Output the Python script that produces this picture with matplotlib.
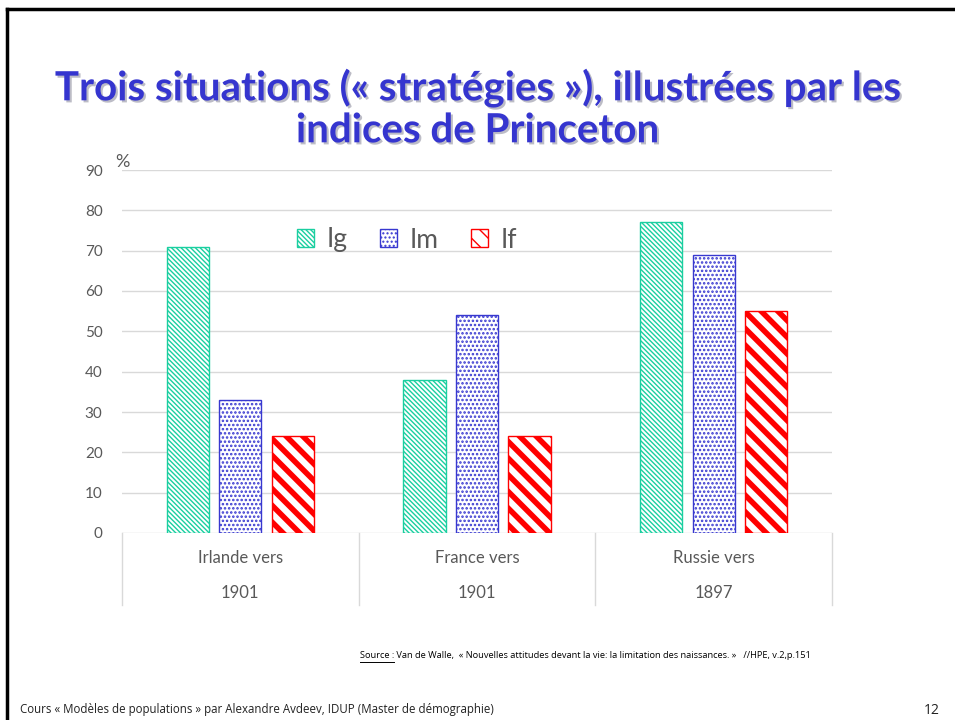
import matplotlib
matplotlib.use("Agg")
import matplotlib.pyplot as plt
import matplotlib.patheffects as pe
import matplotlib.transforms as mtransforms
from matplotlib.lines import Line2D
import numpy as np

# ---- data ----
categories_line1 = ["Irlande vers", "France vers", "Russie vers"]
categories_line2 = ["1901", "1901", "1897"]
series_names = ["Ig", "Im", "If"]
ig_values = [71, 38, 77]
im_values = [33, 54, 69]
if_values = [24, 24, 55]
yticks = [0, 10, 20, 30, 40, 50, 60, 70, 80, 90]

title_text = "Trois situations (« stratégies »), illustrées par les\nindices de Princeton"
source_label = "Source :"
source_text = " Van de Walle,  « Nouvelles attitudes devant la vie: la limitation des naissances. »   //HPE, v.2,p.151"
footer_text = "Cours « Modèles de populations » par Alexandre Avdeev, IDUP (Master de démographie)"
page_number = "12"

colors = ["#1ACFA0", "#3838D0", "#FF0000"]
hatches = ["\\" * 7, "....", "\\\\"]
hatch_lws = [1.0, 1.2, 4.0]

plt.rcParams['font.family'] = ['Lato', 'DejaVu Sans']

fig = plt.figure(figsize=(9.55, 7.2), dpi=100)
fig.patch.set_facecolor("white")

ax = fig.add_axes([122/955, 1-533/720, 710/955, 363/720])
x = np.arange(len(categories_line1))
width = 0.178
step = 0.222
values = [ig_values, im_values, if_values]
for i, (name, vals) in enumerate(zip(series_names, values)):
    bars = ax.bar(x + (i-1)*step, vals, width, facecolor="white",
                  edgecolor=colors[i], hatch=hatches[i], linewidth=1.0,
                  label=name, zorder=3)
    for b in bars:
        if hasattr(b, "set_hatch_linewidth"):
            b.set_hatch_linewidth(hatch_lws[i])

ax.set_xlim(-0.5, 2.5)
ax.set_ylim(0, 90)
ax.set_yticks(yticks)
ax.set_yticklabels([str(t) for t in yticks], fontsize=11, color="#595959")
ax.tick_params(axis="y", length=0, pad=14)
ax.set_xticks([])
for s in ax.spines.values():
    s.set_visible(False)
ax.yaxis.grid(True, color="#D9D9D9", linewidth=1.0, zorder=0)
ax.set_axisbelow(True)

# category labels (two lines)
trans_cat = mtransforms.blended_transform_factory(ax.transData, fig.transFigure)
for xi, l1, l2 in zip(x, categories_line1, categories_line2):
    ax.text(xi, 1-558/720, l1, transform=trans_cat, ha="center", va="center",
            fontsize=12, color="#595959")
    ax.text(xi, 1-593/720, l2, transform=trans_cat, ha="center", va="center",
            fontsize=12, color="#595959")
for xb in [-0.5, 0.5, 1.5, 2.5]:
    ax.add_line(Line2D([xb, xb], [1-533/720, 1-605/720], transform=trans_cat,
                       color="#D9D9D9", linewidth=1.0, clip_on=False))

# percent sign
fig.text(122/955, 1-162/720, "%", fontsize=13, color="#595959", ha="center", va="center")

# legend
leg = ax.legend(loc="center", bbox_to_anchor=((407-122)/710, (533-240)/363),
                ncol=3, frameon=False, fontsize=19, handlelength=0.65,
                handleheight=0.65, handletextpad=0.5, columnspacing=1.2,
                labelcolor="#595959")

# title
fig.text(0.5, 1-109/720, title_text, ha="center", va="center", fontsize=29,
         fontweight="bold", color="#3535CF", linespacing=1.15,
         path_effects=[pe.SimplePatchShadow(offset=(1.5, -1.5), shadow_rgbFace="#9090A0", alpha=0.6),
                       pe.Normal()])

# source
fig.canvas.draw()
renderer = fig.canvas.get_renderer()
t_src = fig.text(360/955, 1-656/720, source_label, fontsize=6.7, color="black",
                 ha="left", va="center", family=["Open Sans", "DejaVu Sans"])
bb = t_src.get_window_extent(renderer=renderer)
fig.text(bb.x1/955, 1-656/720, source_text, fontsize=6.7, color="black",
         ha="left", va="center", family=["Open Sans", "DejaVu Sans"])
fig.add_artist(Line2D([bb.x0/955, bb.x1/955], [(bb.y0-1)/720, (bb.y0-1)/720],
                      transform=fig.transFigure, color="black", linewidth=0.7))

# footer
fig.text(20/955, 1-710/720, footer_text, fontsize=8.3, color="#222222", ha="left", va="center",
         family=["Open Sans", "DejaVu Sans"])
fig.text(940/955, 1-710/720, page_number, fontsize=10, color="#222222", ha="right", va="center",
         family=["Open Sans", "DejaVu Sans"])

# slide border
fig.add_artist(Line2D([7/955, 1.0], [1-9/720, 1-9/720], transform=fig.transFigure,
                      color="black", linewidth=2.5))
fig.add_artist(Line2D([7/955, 7/955], [1-9/720, 0.0], transform=fig.transFigure,
                      color="black", linewidth=2.5))

fig.savefig("out.png", dpi=100)
